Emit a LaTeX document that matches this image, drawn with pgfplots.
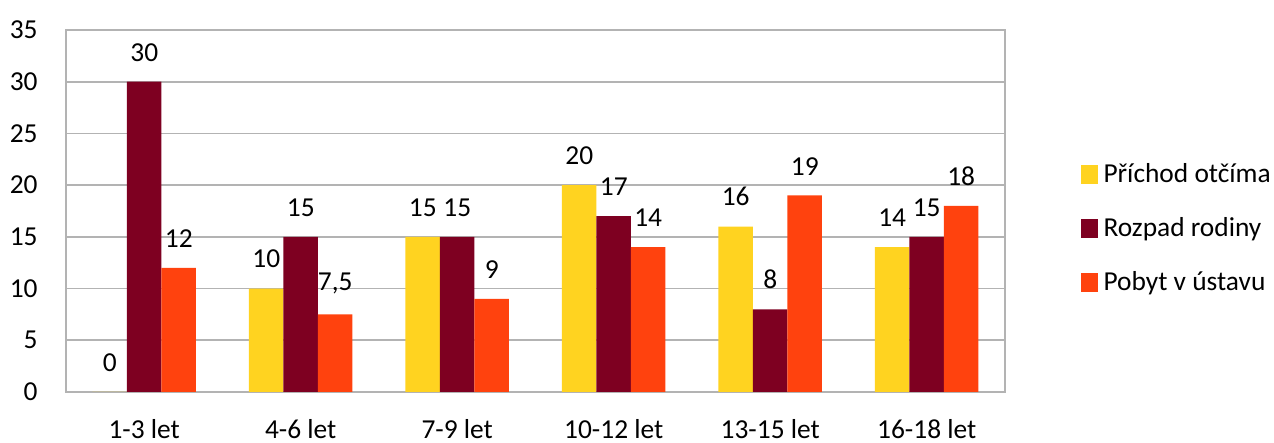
\documentclass[border=0pt]{standalone}
\usepackage{fontspec}
\setmainfont{Carlito}
\usepackage{pgfplots}
\pgfplotsset{compat=1.18}
\definecolor{cYel}{HTML}{FFD320}
\definecolor{cRed}{HTML}{7E0021}
\definecolor{cOra}{HTML}{FF420E}
\definecolor{cGrid}{HTML}{B3B3B3}
\begin{document}
\fontsize{13.5pt}{16pt}\selectfont
\begin{tikzpicture}
\useasboundingbox (0,0) rectangle (637pt,221.5pt);
\begin{axis}[
  at={(33pt,25.5pt)}, anchor=south west,
  scale only axis, width=469.5pt, height=181pt,
  ybar=0pt, bar width=17.25pt,
  xmin=-0.5, xmax=5.5, ymin=0, ymax=35,
  xtick=data,
  xticklabels={1-3 let,4-6 let,7-9 let,10-12 let,13-15 let,16-18 let},
  ytick={0,5,...,35},
  ymajorgrids, grid style={cGrid, line width=0.8pt},
  axis line style={cGrid, line width=0.8pt},
  major tick length=0pt,
  /pgf/number format/assume math mode=true,
  /pgf/number format/use comma,
  yticklabel style={anchor=east, inner sep=0pt, xshift=-14pt, font=\fontsize{13.7pt}{16pt}\selectfont},
  xticklabel style={anchor=north, inner sep=0pt, yshift=-13.5pt, font=\fontsize{13.7pt}{16pt}\selectfont},
  nodes near coords,
  every node near coord/.append style={anchor=south, inner sep=0pt, yshift=10pt, font=\fontsize{13.7pt}{16pt}\selectfont, text=black},
  legend style={draw=none, fill=none, at={(1.08,0.448)}, anchor=west, inner sep=0pt,
    row sep=14pt, column sep=3pt,
    nodes={inner sep=0pt, text height=10pt, text depth=3pt, font=\fontsize{13.7pt}{16pt}\selectfont}},
  legend cell align=left,
  legend image code/.code={\fill[#1] (0pt,-4pt) rectangle (8.5pt,5.5pt);},
]
\addplot[fill=cYel, draw=none] coordinates {(0,0) (1,10) (2,15) (3,20) (4,16) (5,14)};
\addplot[fill=cRed, draw=none] coordinates {(0,30) (1,15) (2,15) (3,17) (4,8) (5,15)};
\addplot[fill=cOra, draw=none] coordinates {(0,12) (1,7.5) (2,9) (3,14) (4,19) (5,18)};
\legend{Příchod otčíma, Rozpad rodiny, Pobyt v ústavu}
\end{axis}
\end{tikzpicture}
\end{document}
